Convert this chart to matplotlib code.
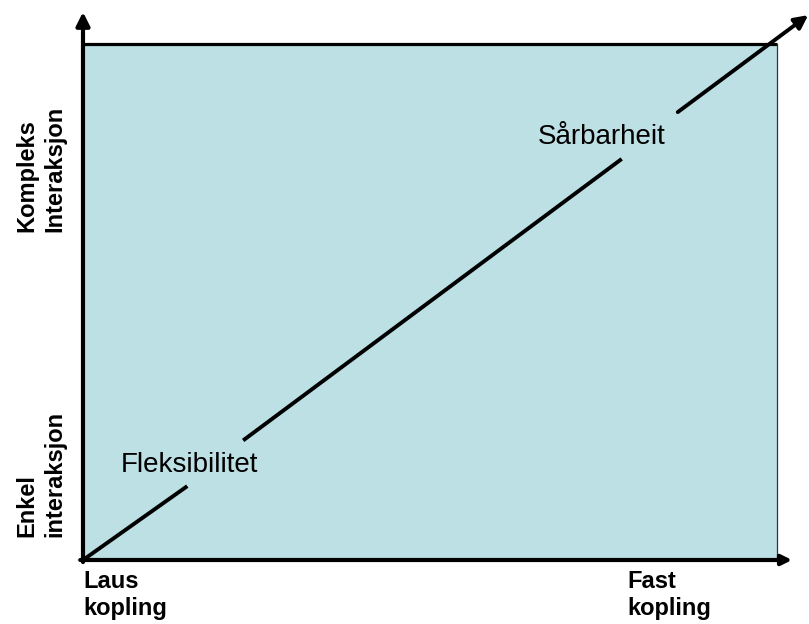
import matplotlib
matplotlib.use("Agg")
import matplotlib.pyplot as plt
from matplotlib.patches import Rectangle

# --- data (diagram in unit coordinates of the shaded box) ---
diag_seg1_x = [0.0, 0.148]
diag_seg1_y = [0.0, 0.141]
diag_seg2_x = [0.233, 0.774]
diag_seg2_y = [0.234, 0.775]
diag_seg3_x = [0.857, 1.045]
diag_seg3_y = [0.868, 1.056]

inner_labels = ["Fleksibilitet", "Sårbarheit"]
inner_label_x = [0.154, 0.748]
inner_label_y = [0.184, 0.820]

y_labels = ["Kompleks\nInteraksjon", "Enkel\ninteraksjon"]
y_label_bottom = [0.636, 0.0446]
x_labels = ["Laus\nkopling", "Fast\nkopling"]
x_label_left = [0.0, 0.784]

box_color = "#BCE0E4"

plt.rcParams['font.family'] = ['Liberation Sans', 'DejaVu Sans']

fig = plt.figure(figsize=(8.09, 6.24), dpi=100)
ax = fig.add_axes([83/809, (624-560)/624, 694/809, 516/624])
ax.set_xlim(0, 1)
ax.set_ylim(0, 1)
ax.axis('off')

ax.add_patch(Rectangle((0, 0), 1, 1, facecolor=box_color, edgecolor='none', zorder=0))
# top border and right border
ax.plot([0, 1], [1, 1], color='black', lw=2.3, clip_on=False, solid_capstyle='butt', zorder=2)
ax.plot([1, 1], [0, 1], color='#333333', lw=0.9, clip_on=False, zorder=2)

# axes arrows
ax.annotate('', xy=(0, 1.062), xytext=(0, -0.004), annotation_clip=False,
            arrowprops=dict(arrowstyle='-|>', lw=3.0, color='black', mutation_scale=20,
                            shrinkA=0, shrinkB=0), zorder=3)
ax.annotate('', xy=(1.0216, 0), xytext=(-0.004, 0), annotation_clip=False,
            arrowprops=dict(arrowstyle='-|>', lw=3.0, color='black', mutation_scale=15,
                            shrinkA=0, shrinkB=0), zorder=3)

# diagonal
ax.plot(diag_seg1_x, diag_seg1_y, color='black', lw=2.8, clip_on=False, zorder=3)
ax.plot(diag_seg2_x, diag_seg2_y, color='black', lw=2.8, clip_on=False, zorder=3)
ax.annotate('', xy=(diag_seg3_x[1], diag_seg3_y[1]), xytext=(diag_seg3_x[0], diag_seg3_y[0]),
            annotation_clip=False,
            arrowprops=dict(arrowstyle='-|>', lw=2.8, color='black', mutation_scale=20,
                            shrinkA=0, shrinkB=0), zorder=3)

for lbl, x, y in zip(inner_labels, inner_label_x, inner_label_y):
    ax.text(x, y, lbl, ha='center', va='center', fontsize=20, color='black')

for lbl, yb in zip(y_labels, y_label_bottom):
    ax.text(-0.0605, yb, lbl, rotation=90, ha='center', va='bottom', multialignment='left',
            fontsize=17, fontweight='bold', linespacing=1.25, clip_on=False)

for lbl, xl in zip(x_labels, x_label_left):
    ax.text(xl, -0.02, lbl, ha='left', va='top', fontsize=17, fontweight='bold',
            linespacing=1.2, clip_on=False)

fig.savefig('out.png', dpi=100)
